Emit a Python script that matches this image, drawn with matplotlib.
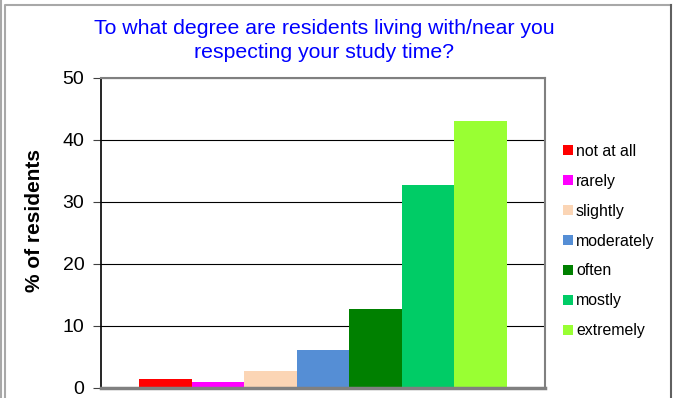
import matplotlib
matplotlib.use("Agg")
import matplotlib.pyplot as plt
from matplotlib.patches import Rectangle, Patch
from matplotlib.lines import Line2D

plt.rcParams['font.family'] = ['Liberation Sans', 'DejaVu Sans']

categories = ["not at all", "rarely", "slightly", "moderately", "often", "mostly", "extremely"]
values = [1.5, 0.9, 2.8, 6.2, 12.8, 32.8, 43.0]
colors = ["#ff0000", "#ff00ff", "#fbd5b5", "#558ed5", "#008000", "#00cc66", "#99ff33"]
yticks = [0, 10, 20, 30, 40, 50]

W, H = 675, 398
fig = plt.figure(figsize=(W/100, H/100), dpi=100)
fig.lines.append(Line2D([1/W, 1/W], [0, 1], transform=fig.transFigure, color="#a8a8a8", linewidth=1.5))
fig.lines.append(Line2D([5/W, 5/W, 671/W], [0, 1-5/H, 1-5/H], transform=fig.transFigure,
                        color="#a8a8a8", linewidth=1.5))
fig.lines.append(Line2D([671/W, 671/W], [0, 1-5/H], transform=fig.transFigure,
                        color="#606060", linewidth=1.5))

left, right, top, bottom = 101, 545, 78, 388
ax = fig.add_axes([left/W, 1-bottom/H, (right-left)/W, (bottom-top)/H])

bw = 1.0
n = len(values)
gap = 0.73
xs = [gap + i*bw + bw/2 for i in range(n)]
for x, v, c in zip(xs, values, colors):
    ax.bar(x, v, width=bw, color=c, edgecolor="none", zorder=2)
ax.set_xlim(0, n*bw + 2*gap)
ax.set_ylim(0, 50)
ax.set_yticks(yticks)
ax.set_yticklabels([str(t) for t in yticks], fontsize=14)
ax.set_xticks([])
ax.yaxis.grid(True, color="#000000", linewidth=0.8, zorder=0)
ax.set_axisbelow(True)
ax.tick_params(axis='y', length=6, color="#404040", pad=6)
for s in ["top", "right"]:
    ax.spines[s].set_color("#808080")
    ax.spines[s].set_linewidth(1.5)
ax.spines["bottom"].set_color("#808080")
ax.spines["bottom"].set_linewidth(2.5)
ax.spines["left"].set_color("#000000")
ax.spines["left"].set_linewidth(1.2)
ax.set_ylabel("% of residents", fontsize=15, fontweight="bold", labelpad=14)
ax.yaxis.set_label_coords(-0.128, 1 - (220 - top) / (bottom - top))

fig.text(324/W, 1-40.5/H, "To what degree are residents living with/near you\nrespecting your study time?",
         ha="center", va="center", color="#0000ff", fontsize=15.3, linespacing=1.3)

handles = [Patch(facecolor=c, edgecolor="none") for c in colors]
leg = fig.legend(handles, categories, loc="center left", bbox_to_anchor=(549/W, 1-241/H),
                 frameon=False, fontsize=11.4, handlelength=0.6, handleheight=0.6,
                 handletextpad=0.2, labelspacing=0.94)

fig.savefig("out.png", dpi=100)
